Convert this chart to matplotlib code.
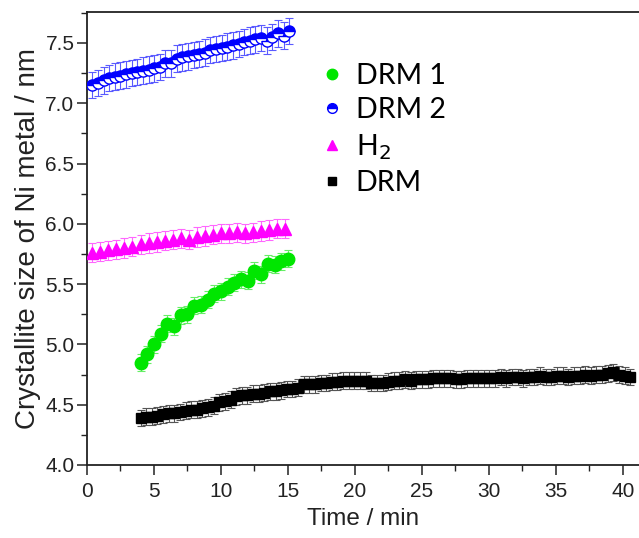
import numpy as np
import matplotlib
matplotlib.use("Agg")
import matplotlib.pyplot as plt
from matplotlib.ticker import MultipleLocator
from matplotlib.lines import Line2D

# ---------------- data ----------------
drm2_t0, drm2_dt = 0.4, 0.42
drm2_vals = [7.15, 7.17, 7.19, 7.21, 7.22, 7.23, 7.24, 7.25, 7.26, 7.27,
             7.28, 7.29, 7.30, 7.33, 7.33, 7.37, 7.38, 7.39, 7.40, 7.41,
             7.42, 7.44, 7.45, 7.46, 7.47, 7.48, 7.49, 7.51, 7.52, 7.53,
             7.54, 7.52, 7.55, 7.58, 7.56, 7.60]
drm2_err = 0.11

h2_t0, h2_dt = 0.4, 0.6
h2_vals = [5.76, 5.77, 5.78, 5.79, 5.80, 5.81, 5.83, 5.84, 5.85, 5.86,
           5.87, 5.88, 5.87, 5.89, 5.90, 5.91, 5.92, 5.92, 5.93, 5.92,
           5.93, 5.94, 5.95, 5.96, 5.96]
h2_err = 0.08

drm1_t0, drm1_dt = 4.0, 0.5
drm1_vals = [4.85, 4.92, 5.00, 5.09, 5.17, 5.15, 5.24, 5.25, 5.32, 5.33,
             5.37, 5.42, 5.44, 5.48, 5.51, 5.54, 5.53, 5.61, 5.58, 5.67,
             5.66, 5.69, 5.71]
drm1_err = 0.07

drm_t0, drm_dt = 4.0, 0.42
drm_vals = [4.39, 4.40, 4.40, 4.41, 4.42, 4.43, 4.43, 4.44, 4.45, 4.46,
            4.46, 4.47, 4.48, 4.49, 4.52, 4.53, 4.54, 4.57, 4.58, 4.58,
            4.59, 4.59, 4.60, 4.61, 4.61, 4.62, 4.63, 4.63, 4.64, 4.67,
            4.67, 4.67, 4.68, 4.68, 4.69, 4.69, 4.70, 4.70, 4.70, 4.70,
            4.70, 4.68, 4.68, 4.68, 4.69, 4.70, 4.70, 4.71, 4.70, 4.71,
            4.71, 4.71, 4.72, 4.72, 4.72, 4.72, 4.71, 4.71, 4.72, 4.72,
            4.72, 4.72, 4.72, 4.72, 4.73, 4.72, 4.73, 4.73, 4.72, 4.73,
            4.73, 4.74, 4.73, 4.73, 4.74, 4.74, 4.73, 4.74, 4.74, 4.75,
            4.74, 4.75, 4.75, 4.76, 4.77, 4.75, 4.74, 4.73]
drm_err = 0.07

x_ticks = [0, 5, 10, 15, 20, 25, 30, 35, 40]
y_ticks = [4.0, 4.5, 5.0, 5.5, 6.0, 6.5, 7.0, 7.5]
legend_labels = ["DRM 1", "DRM 2", "H$_2$", "DRM"]

def times(t0, dt, vals):
    return t0 + dt * np.arange(len(vals))

# ---------------- figure ----------------
plt.rcParams['font.family'] = ['Liberation Sans', 'DejaVu Sans']
fig = plt.figure(figsize=(6.39, 5.38), dpi=100)
ax = fig.add_axes([0.136, 0.1357, 0.864, 0.842])

ebkw = dict(elinewidth=0.8, capsize=3.2, capthick=0.8, linestyle='none')

ax.errorbar(times(drm_t0, drm_dt, drm_vals), drm_vals, yerr=drm_err,
            marker='s', markersize=7.5, color='black', ecolor='#555555',
            mec='black', zorder=3, **ebkw)
ax.errorbar(times(drm1_t0, drm1_dt, drm1_vals), drm1_vals, yerr=drm1_err,
            marker='o', markersize=9, color='#00e600', ecolor='#66ee66',
            mec='#00e600', zorder=3, **ebkw)
ax.errorbar(times(h2_t0, h2_dt, h2_vals), h2_vals, yerr=h2_err,
            marker='^', markersize=9, color='#ff00ff', ecolor='#ff66ff',
            mec='#ff00ff', zorder=3, **ebkw)
ax.errorbar(times(drm2_t0, drm2_dt, drm2_vals), drm2_vals, yerr=drm2_err,
            marker='o', markersize=8, color='#0000ff', ecolor='#5a5aff',
            mec='#0000ff', mfc='#0000ff', fillstyle='top',
            markerfacecoloralt='white', zorder=3, **ebkw)

ax.set_xlim(0, 41.2)
ax.set_ylim(4.0, 7.757)
ax.set_xticks(x_ticks)
ax.set_yticks(y_ticks)
ax.set_yticklabels([f"{v:.1f}" for v in y_ticks])
ax.xaxis.set_minor_locator(MultipleLocator(2.5))
ax.yaxis.set_minor_locator(MultipleLocator(0.25))
ax.tick_params(which='major', direction='out', length=7, width=1.1,
               labelsize=15, color='#222222', labelcolor='#222222')
ax.tick_params(which='minor', direction='out', length=4, width=1.0,
               color='#222222')
ax.tick_params(axis='x', pad=5)
ax.tick_params(axis='y', pad=2)
for s in ['left', 'bottom', 'top']:
    ax.spines[s].set_linewidth(1.3)
    ax.spines[s].set_color('#222222')
ax.spines['right'].set_visible(False)

ax.set_xlabel("Time / min", fontsize=17.5, color='#222222', labelpad=5)
ax.set_ylabel("Crystallite size of Ni metal / nm", fontsize=20,
              color='#222222', labelpad=3)

# legend
handles = [
    Line2D([], [], marker='o', linestyle='none', color='#00e600', markersize=7.5),
    Line2D([], [], marker='o', linestyle='none', color='#0000ff', mec='#0000ff',
           fillstyle='top', markerfacecoloralt='white', markersize=7),
    Line2D([], [], marker='^', linestyle='none', color='#ff00ff', markersize=7.5),
    Line2D([], [], marker='s', linestyle='none', color='black', markersize=6),
]
leg = ax.legend(handles, legend_labels, loc='upper left',
                bbox_to_anchor=(0.402, 0.913), frameon=False,
                prop={'family': ['Lato', 'DejaVu Sans'], 'size': 20.5},
                handlelength=0.8, handletextpad=0.45, labelspacing=0.3,
                borderaxespad=0)

fig.savefig("out.png", dpi=100)
